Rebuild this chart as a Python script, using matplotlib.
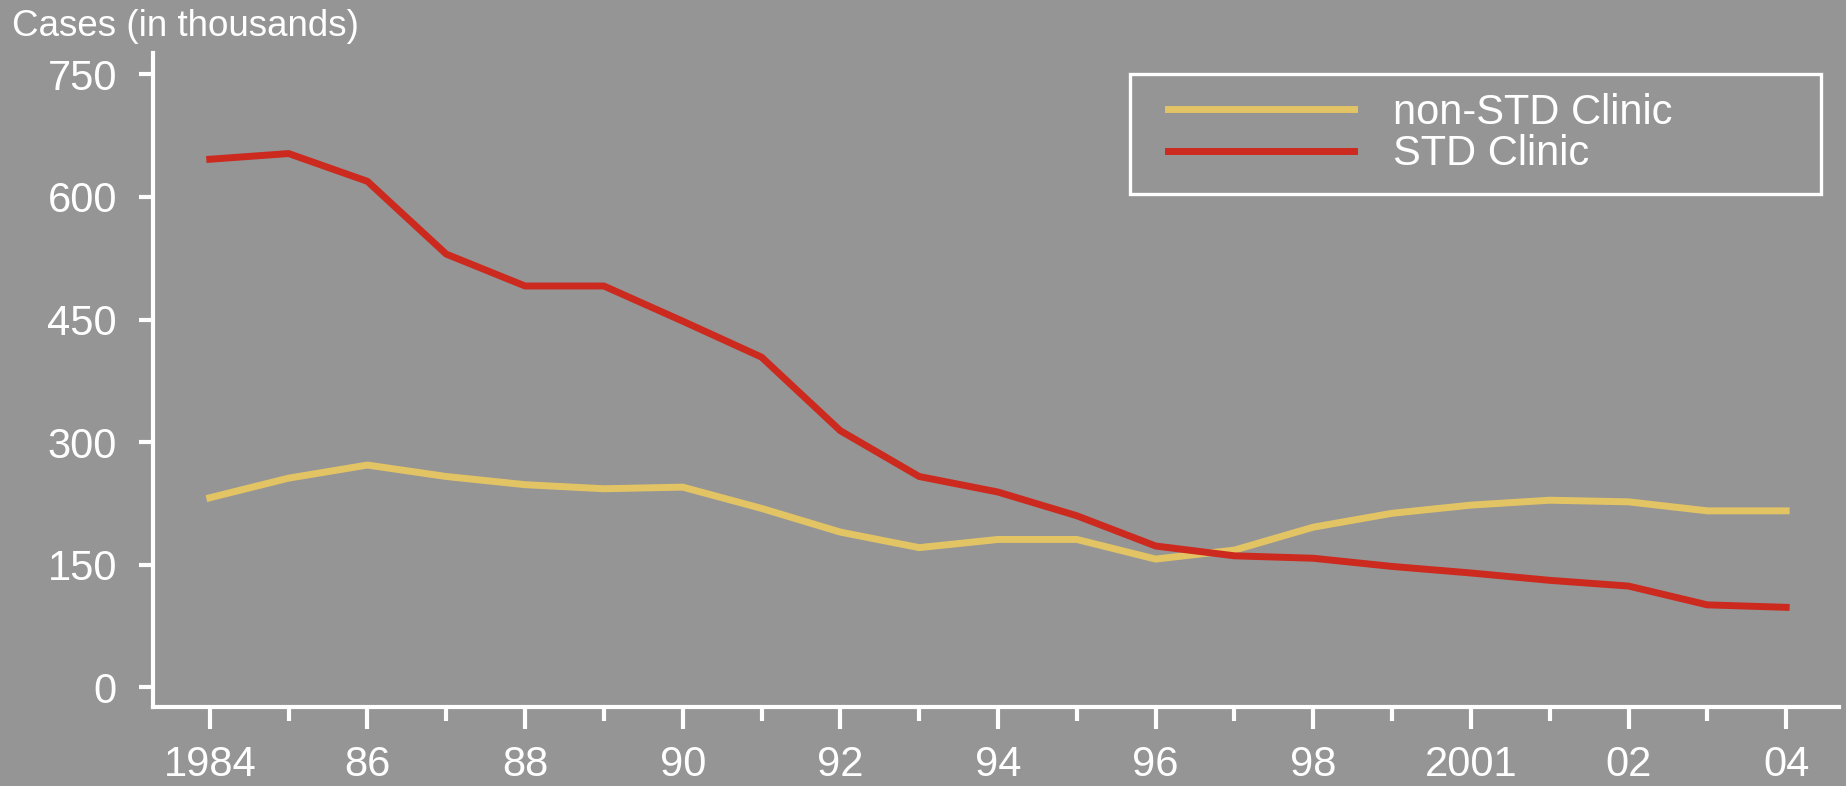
import matplotlib
matplotlib.use("Agg")
import matplotlib.pyplot as plt
from matplotlib.patches import Rectangle
from matplotlib.ticker import FixedLocator

years = list(range(1984, 2005))
std_clinic = [646, 653, 619, 530, 491, 491, 448, 404, 314, 258, 239, 210,
              173, 161, 158, 148, 140, 131, 124, 101, 98]
non_std_clinic = [232, 256, 272, 258, 248, 243, 245, 219, 190, 171, 181, 181,
                  157, 168, 196, 213, 223, 229, 227, 216, 216]
label_years = list(range(1984, 2005, 2))
label_text = ["1984", "86", "88", "90", "92", "94", "96", "98", "2001", "02", "04"]
y_ticks = [0, 150, 300, 450, 600, 750]

BG = "#959595"
RED = "#CC2A1E"
YELLOW = "#E3C464"
FONT = ["Liberation Sans", "DejaVu Sans"]
FS = 30

plt.rcParams["font.family"] = FONT
plt.rcParams["text.color"] = "white"

fig = plt.figure(figsize=(18.46, 7.86), dpi=100, facecolor=BG)
ax = fig.add_axes([0.0829, 0.0999, 0.9133, 0.8327])
ax.set_facecolor(BG)

ax.plot(years, non_std_clinic, color=YELLOW, linewidth=5, label="non-STD Clinic")
ax.plot(years, std_clinic, color=RED, linewidth=5, label="STD Clinic")

ax.set_xlim(1983.28, 2004.67)
ax.set_ylim(-24.5, 776)

for side in ["top", "right"]:
    ax.spines[side].set_visible(False)
for side in ["left", "bottom"]:
    ax.spines[side].set_color("white")
    ax.spines[side].set_linewidth(3)

ax.set_yticks(y_ticks)
ax.set_yticklabels([str(v) for v in y_ticks])
ax.tick_params(axis="y", colors="white", labelsize=FS, length=10, width=3, pad=16)

ax.set_xticks(label_years)
ax.set_xticklabels(label_text)
ax.xaxis.set_minor_locator(FixedLocator([y for y in years if y % 2 == 1]))
ax.tick_params(axis="x", which="major", colors="white", labelsize=FS, length=16, width=3, pad=11)
ax.tick_params(axis="x", which="minor", colors="white", length=10, width=3)

fig.text(12 / 1846, 1 - 27 / 786, "Cases (in thousands)", fontsize=26.5, color="white",
         ha="left", va="center")

# legend frame drawn by hand, legend itself without frame
fig.patches.append(Rectangle((1130 / 1846, 1 - 194 / 786), 691 / 1846, 120 / 786,
                             transform=fig.transFigure, fill=False,
                             edgecolor="white", linewidth=2.4))
leg = ax.legend(loc="upper left", bbox_to_anchor=(1168 / 1846, 1 - 93 / 786),
                bbox_transform=fig.transFigure, frameon=False, fontsize=FS,
                handlelength=4.46, handletextpad=0.95, labelspacing=0.03,
                borderpad=0, borderaxespad=0)
for t in leg.get_texts():
    t.set_color("white")

fig.savefig("out.png", dpi=100, facecolor=BG)
